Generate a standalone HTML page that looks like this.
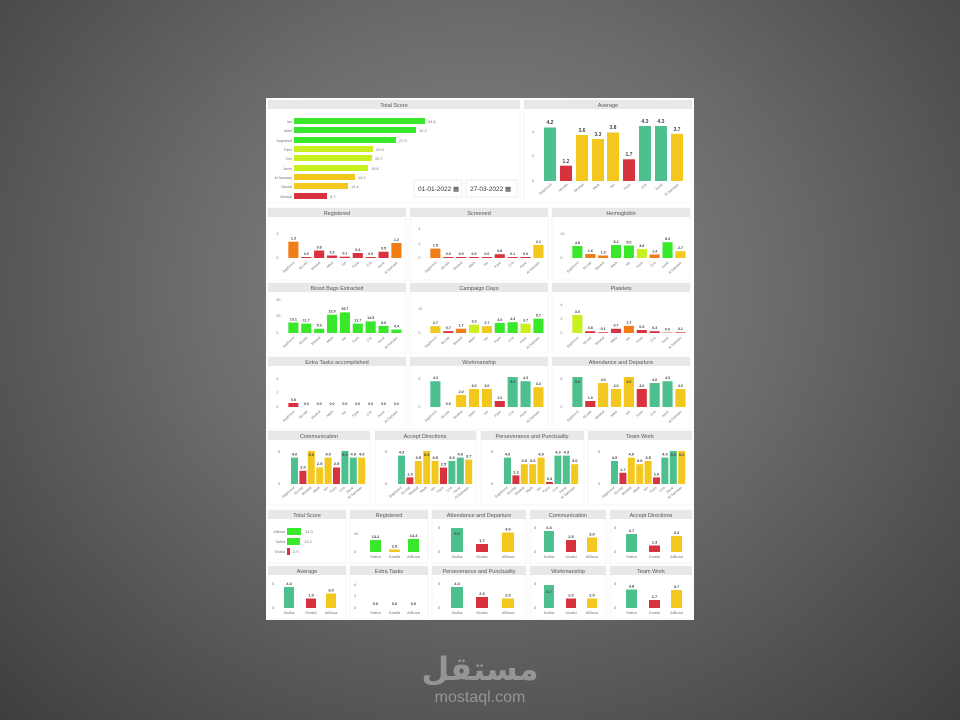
<!DOCTYPE html>
<html><head><meta charset="utf-8"><style>
html,body{margin:0;padding:0;width:960px;height:720px;overflow:hidden;background:radial-gradient(ellipse at 50% 40%,#8c8c8c 0%,#6a6a6a 45%,#3e3e3e 100%);font-family:"Liberation Sans",sans-serif}
svg{position:absolute;left:0;top:0}
.t{font-size:5.5px;fill:#555;text-anchor:middle}
.v{font-size:4px;fill:#444;font-weight:bold;text-anchor:middle}
.a{font-size:4px;fill:#777}
.n{font-size:3.6px;fill:#777;text-anchor:end}
.G{fill:#4ec08f}.R{fill:#d9323f}.Y{fill:#f2c81e}.O{fill:#f07d16}.B{fill:#39e82a}.L{fill:#c8ef1e}
</style></head><body>
<svg width="960" height="720" viewBox="0 0 960 720">
<defs>
<g id="names"><text class="n" transform="translate(28,55) rotate(-40)">Saghreed</text><text class="n" transform="translate(42,55) rotate(-40)">Nicolai</text><text class="n" transform="translate(56,55) rotate(-40)">Meshal</text><text class="n" transform="translate(70,55) rotate(-40)">Mark</text><text class="n" transform="translate(84,55) rotate(-40)">Ian</text><text class="n" transform="translate(98,55) rotate(-40)">Faris</text><text class="n" transform="translate(112,55) rotate(-40)">Cris</text><text class="n" transform="translate(126,55) rotate(-40)">Asrar</text><text class="n" transform="translate(140,55) rotate(-40)">Al Samaan</text></g>
<g id="names5"><text class="n" transform="translate(27,57) rotate(-40)">Saghreed</text><text class="n" transform="translate(35.4,57) rotate(-40)">Nicolai</text><text class="n" transform="translate(43.8,57) rotate(-40)">Meshal</text><text class="n" transform="translate(52.2,57) rotate(-40)">Mark</text><text class="n" transform="translate(60.6,57) rotate(-40)">Ian</text><text class="n" transform="translate(69,57) rotate(-40)">Faris</text><text class="n" transform="translate(77.4,57) rotate(-40)">Cris</text><text class="n" transform="translate(85.8,57) rotate(-40)">Asrar</text><text class="n" transform="translate(94.2,57) rotate(-40)">Al Samaan</text></g>
</defs>
<rect x="266" y="98" width="428" height="522" fill="#fff"/>

<!-- Total Score -->
<rect x="268" y="100" width="252" height="103" fill="#fff" stroke="#eee" stroke-width=".5"/>
<rect x="268" y="100" width="252" height="9" fill="#e8e8e8"/><text class="t" x="394" y="107">Total Score</text>
<g class="n" style="text-anchor:end">
<text x="292" y="123">Ian</text><text x="292" y="132">Mark</text><text x="292" y="142">Saghreed</text><text x="292" y="151">Faris</text><text x="292" y="160">Cris</text><text x="292" y="170">Asrar</text><text x="292" y="179">Al Samaan</text><text x="292" y="188">Nicolai</text><text x="292" y="198">Meshal</text></g>
<rect class="B" x="294" y="118" width="131" height="6"/><rect class="B" x="294" y="127" width="122" height="6"/><rect class="B" x="294" y="137" width="102" height="6"/><rect class="L" x="294" y="146" width="79" height="6"/><rect class="L" x="294" y="155" width="78" height="6"/><rect class="L" x="294" y="165" width="74" height="6"/><rect class="Y" x="294" y="174" width="61" height="6"/><rect class="Y" x="294" y="183" width="54" height="6"/><rect class="R" x="294" y="193" width="33" height="6"/>
<g class="a"><text x="428" y="123">34.6</text><text x="419" y="132">32.2</text><text x="399" y="142">27.0</text><text x="376" y="151">20.9</text><text x="375" y="160">20.7</text><text x="371" y="170">19.6</text><text x="358" y="179">16.2</text><text x="351" y="188">14.4</text><text x="330" y="198">8.7</text></g>
<rect x="414" y="180" width="48" height="17" fill="#fff" stroke="#ddd" stroke-width=".5"/><rect x="466" y="180" width="51" height="17" fill="#fff" stroke="#ddd" stroke-width=".5"/>
<text x="418" y="191" font-size="6.5" fill="#333">01-01-2022 ▦</text><text x="470" y="191" font-size="6.5" fill="#333">27-03-2022 ▦</text>

<!-- Average -->
<rect x="524" y="100" width="168" height="103" fill="#fff" stroke="#eee" stroke-width=".5"/>
<rect x="524" y="100" width="168" height="9" fill="#e8e8e8"/><text class="t" x="608" y="107">Average</text>
<g class="a"><text x="532" y="133">4</text><text x="532" y="157">2</text><text x="532" y="182">0</text></g>
<rect class="G" x="544" y="127.5" width="12" height="53.5"/><rect class="R" x="560" y="165.7" width="12" height="15.3"/><rect class="Y" x="576" y="135" width="12" height="46"/><rect class="Y" x="592" y="139" width="12" height="42"/><rect class="Y" x="607" y="132.5" width="12" height="48.5"/><rect class="R" x="623" y="159.3" width="12" height="21.7"/><rect class="G" x="639" y="126" width="12" height="55"/><rect class="G" x="655" y="126" width="12" height="55"/><rect class="Y" x="671" y="133.8" width="12" height="47.2"/>
<g class="v" style="font-size:5px"><text x="550" y="124">4.2</text><text x="566" y="163">1.2</text><text x="582" y="132">3.6</text><text x="598" y="136">3.3</text><text x="613" y="129">3.8</text><text x="629" y="156">1.7</text><text x="645" y="123">4.3</text><text x="661" y="123">4.3</text><text x="677" y="131">3.7</text></g>
<g class="n"><text transform="translate(552,185) rotate(-40)">Saghreed</text><text transform="translate(568,185) rotate(-40)">Nicolai</text><text transform="translate(584,185) rotate(-40)">Meshal</text><text transform="translate(600,185) rotate(-40)">Mark</text><text transform="translate(615,185) rotate(-40)">Ian</text><text transform="translate(631,185) rotate(-40)">Faris</text><text transform="translate(647,185) rotate(-40)">Cris</text><text transform="translate(663,185) rotate(-40)">Asrar</text><text transform="translate(679,185) rotate(-40)">Al Samaan</text></g>

<!-- Row 2 -->
<svg x="268" y="208" width="138" height="72" overflow="visible"><rect width="138" height="72" fill="#fff" stroke="#eee" stroke-width=".5"/><rect width="138" height="9" fill="#e8e8e8"/><text class="t" x="69" y="7">Registered</text>
<g transform="translate(1,0) scale(.92,1)">
<text class="a" x="8" y="27">2</text><text class="a" x="8" y="51">0</text>
<rect class="O" x="21" y="33.7" width="11" height="16.3"/><rect class="R" x="35" y="49" width="11" height="1"/><rect class="R" x="49" y="42.5" width="11" height="7.5"/><rect class="R" x="63" y="47.5" width="11" height="2.5"/><rect class="R" x="77" y="48.7" width="11" height="1.3"/><rect class="R" x="91" y="45" width="11" height="5"/><rect class="R" x="105" y="49" width="11" height="1"/><rect class="R" x="119" y="43.7" width="11" height="6.3"/><rect class="O" x="133" y="35" width="11" height="15"/>
<g class="v"><text x="26.5" y="31.5">1.3</text><text x="40.5" y="47">0.0</text><text x="54.5" y="40.5">0.6</text><text x="68.5" y="45.5">0.2</text><text x="82.5" y="46.5">0.1</text><text x="96.5" y="43">0.4</text><text x="110.5" y="47">0.0</text><text x="124.5" y="41.5">0.5</text><text x="138.5" y="33">1.2</text></g><use href="#names"/></g></svg>

<svg x="410" y="208" width="138" height="72" overflow="visible"><rect width="138" height="72" fill="#fff" stroke="#eee" stroke-width=".5"/><rect width="138" height="9" fill="#e8e8e8"/><text class="t" x="69" y="7">Screened</text>
<g transform="translate(1,0) scale(.92,1)">
<text class="a" x="8" y="22">4</text><text class="a" x="8" y="37">2</text><text class="a" x="8" y="51">0</text>
<rect class="O" x="21" y="40.6" width="11" height="9.4"/><rect class="R" x="35" y="49" width="11" height="1"/><rect class="R" x="49" y="49" width="11" height="1"/><rect class="R" x="63" y="49" width="11" height="1"/><rect class="R" x="77" y="49" width="11" height="1"/><rect class="R" x="91" y="46.2" width="11" height="3.8"/><rect class="R" x="105" y="49" width="11" height="1"/><rect class="R" x="119" y="49" width="11" height="1"/><rect class="Y" x="133" y="36.9" width="11" height="13.1"/>
<g class="v"><text x="26.5" y="38.5">1.5</text><text x="40.5" y="47">0.0</text><text x="54.5" y="47">0.0</text><text x="68.5" y="47">0.0</text><text x="82.5" y="47">0.0</text><text x="96.5" y="44">0.6</text><text x="110.5" y="47">0.1</text><text x="124.5" y="47">0.0</text><text x="138.5" y="35">2.1</text></g><use href="#names"/></g></svg>

<svg x="552" y="208" width="138" height="72" overflow="visible"><rect width="138" height="72" fill="#fff" stroke="#eee" stroke-width=".5"/><rect width="138" height="9" fill="#e8e8e8"/><text class="t" x="69" y="7">Hemoglobin</text>
<g transform="translate(1,0) scale(.92,1)">
<text class="a" x="8" y="27">10</text><text class="a" x="8" y="51">0</text>
<rect class="B" x="21" y="38" width="11" height="12"/><rect class="O" x="35" y="46" width="11" height="4"/><rect class="O" x="49" y="47.5" width="11" height="2.5"/><rect class="B" x="63" y="37" width="11" height="13"/><rect class="B" x="77" y="37.5" width="11" height="12.5"/><rect class="L" x="91" y="41" width="11" height="9"/><rect class="O" x="105" y="46.5" width="11" height="3.5"/><rect class="B" x="119" y="34.2" width="11" height="15.8"/><rect class="Y" x="133" y="43.2" width="11" height="6.8"/>
<g class="v"><text x="26.5" y="36">4.8</text><text x="40.5" y="44">1.6</text><text x="54.5" y="45.5">1.0</text><text x="68.5" y="35">5.2</text><text x="82.5" y="35.5">5.0</text><text x="96.5" y="39">3.6</text><text x="110.5" y="44.5">1.4</text><text x="124.5" y="32">6.3</text><text x="138.5" y="41">2.7</text></g><use href="#names"/></g></svg>

<!-- Row 3 -->
<svg x="268" y="283" width="138" height="70" overflow="visible"><rect width="138" height="70" fill="#fff" stroke="#eee" stroke-width=".5"/><rect width="138" height="9" fill="#e8e8e8"/><text class="t" x="69" y="7">Blood Bags Extracted</text>
<g transform="translate(1,0) scale(.92,1)">
<text class="a" x="8" y="18">40</text><text class="a" x="8" y="34">20</text><text class="a" x="8" y="51">0</text>
<rect class="B" x="21" y="39.5" width="11" height="10.5"/><rect class="B" x="35" y="40.6" width="11" height="9.4"/><rect class="B" x="49" y="45.8" width="11" height="4.2"/><rect class="B" x="63" y="31.7" width="11" height="18.3"/><rect class="B" x="77" y="29.4" width="11" height="20.6"/><rect class="B" x="91" y="40.6" width="11" height="9.4"/><rect class="B" x="105" y="38.4" width="11" height="11.6"/><rect class="B" x="119" y="42.9" width="11" height="7.1"/><rect class="B" x="133" y="46.5" width="11" height="3.5"/>
<g class="v"><text x="26.5" y="37.5">13.1</text><text x="40.5" y="38.5">11.7</text><text x="54.5" y="43.5">5.3</text><text x="68.5" y="29.5">22.9</text><text x="82.5" y="27">25.7</text><text x="96.5" y="38.5">11.7</text><text x="110.5" y="36">14.5</text><text x="124.5" y="41">8.9</text><text x="138.5" y="44.5">4.4</text></g><use href="#names"/></g></svg>

<svg x="410" y="283" width="138" height="70" overflow="visible"><rect width="138" height="70" fill="#fff" stroke="#eee" stroke-width=".5"/><rect width="138" height="9" fill="#e8e8e8"/><text class="t" x="69" y="7">Campaign Days</text>
<g transform="translate(1,0) scale(.92,1)">
<text class="a" x="8" y="27">10</text><text class="a" x="8" y="51">0</text>
<rect class="Y" x="21" y="43.2" width="11" height="6.8"/><rect class="R" x="35" y="48.2" width="11" height="1.8"/><rect class="O" x="49" y="45.7" width="11" height="4.3"/><rect class="L" x="63" y="41.7" width="11" height="8.3"/><rect class="Y" x="77" y="43.2" width="11" height="6.8"/><rect class="B" x="91" y="40" width="11" height="10"/><rect class="B" x="105" y="39.2" width="11" height="10.8"/><rect class="L" x="119" y="40.7" width="11" height="9.3"/><rect class="B" x="133" y="35.7" width="11" height="14.3"/>
<g class="v"><text x="26.5" y="41">2.7</text><text x="40.5" y="46">0.7</text><text x="54.5" y="43.5">1.7</text><text x="68.5" y="39.5">3.3</text><text x="82.5" y="41">2.7</text><text x="96.5" y="38">4.0</text><text x="110.5" y="37">4.3</text><text x="124.5" y="38.5">3.7</text><text x="138.5" y="33.5">5.7</text></g><use href="#names"/></g></svg>

<svg x="552" y="283" width="138" height="70" overflow="visible"><rect width="138" height="70" fill="#fff" stroke="#eee" stroke-width=".5"/><rect width="138" height="9" fill="#e8e8e8"/><text class="t" x="69" y="7">Platelets</text>
<g transform="translate(1,0) scale(.92,1)">
<text class="a" x="8" y="23">4</text><text class="a" x="8" y="37">2</text><text class="a" x="8" y="51">0</text>
<rect class="L" x="21" y="32" width="11" height="18"/><rect class="R" x="35" y="48.2" width="11" height="1.8"/><rect class="R" x="49" y="49.3" width="11" height=".7"/><rect class="R" x="63" y="45.8" width="11" height="4.2"/><rect class="O" x="77" y="42.8" width="11" height="7.2"/><rect class="R" x="91" y="47" width="11" height="3"/><rect class="R" x="105" y="48.2" width="11" height="1.8"/><rect class="R" x="119" y="49.6" width="11" height=".4"/><rect class="R" x="133" y="49.3" width="11" height=".7"/>
<g class="v"><text x="26.5" y="30">3.0</text><text x="40.5" y="46">0.5</text><text x="54.5" y="47">0.1</text><text x="68.5" y="43.5">0.7</text><text x="82.5" y="40.5">1.2</text><text x="96.5" y="45">0.5</text><text x="110.5" y="46">0.3</text><text x="124.5" y="47.5">0.0</text><text x="138.5" y="47">0.1</text></g><use href="#names"/></g></svg>

<!-- Row 4 -->
<svg x="268" y="357" width="138" height="72" overflow="visible"><rect width="138" height="72" fill="#fff" stroke="#eee" stroke-width=".5"/><rect width="138" height="9" fill="#e8e8e8"/><text class="t" x="69" y="7">Extra Tasks accomplished</text>
<g transform="translate(1,0) scale(.92,1)">
<text class="a" x="8" y="23">4</text><text class="a" x="8" y="37">2</text><text class="a" x="8" y="51">0</text>
<rect class="R" x="21" y="46" width="11" height="4"/>
<g class="v"><text x="26.5" y="44">0.6</text><text x="40.5" y="48">0.0</text><text x="54.5" y="48">0.0</text><text x="68.5" y="48">0.0</text><text x="82.5" y="48">0.0</text><text x="96.5" y="48">0.0</text><text x="110.5" y="48">0.0</text><text x="124.5" y="48">0.0</text><text x="138.5" y="48">0.0</text></g><use href="#names"/></g></svg>

<svg x="410" y="357" width="138" height="72" overflow="visible"><rect width="138" height="72" fill="#fff" stroke="#eee" stroke-width=".5"/><rect width="138" height="9" fill="#e8e8e8"/><text class="t" x="69" y="7">Workmanship</text>
<g transform="translate(1,0) scale(.92,1)">
<text class="a" x="8" y="23">5</text><text class="a" x="8" y="51">0</text>
<rect class="G" x="21" y="24.2" width="11" height="25.8"/><rect class="Y" x="49" y="38" width="11" height="12"/><rect class="Y" x="63" y="32" width="11" height="18"/><rect class="Y" x="77" y="32" width="11" height="18"/><rect class="R" x="91" y="44" width="11" height="6"/><rect class="G" x="105" y="20" width="11" height="30"/><rect class="G" x="119" y="24.2" width="11" height="25.8"/><rect class="Y" x="133" y="30.2" width="11" height="19.8"/>
<g class="v"><text x="26.5" y="22">4.3</text><text x="40.5" y="48">0.0</text><text x="54.5" y="36">2.0</text><text x="68.5" y="30">3.0</text><text x="82.5" y="30">3.0</text><text x="96.5" y="42">1.0</text><text x="110.5" y="26">5.0</text><text x="124.5" y="22">4.3</text><text x="138.5" y="28">3.3</text></g><use href="#names"/></g></svg>

<svg x="552" y="357" width="138" height="72" overflow="visible"><rect width="138" height="72" fill="#fff" stroke="#eee" stroke-width=".5"/><rect width="138" height="9" fill="#e8e8e8"/><text class="t" x="69" y="7">Attendance and Departure</text>
<g transform="translate(1,0) scale(.92,1)">
<text class="a" x="8" y="23">5</text><text class="a" x="8" y="51">0</text>
<rect class="G" x="21" y="20" width="11" height="30"/><rect class="R" x="35" y="44" width="11" height="6"/><rect class="Y" x="49" y="26" width="11" height="24"/><rect class="Y" x="63" y="32" width="11" height="18"/><rect class="Y" x="77" y="20" width="11" height="30"/><rect class="R" x="91" y="32" width="11" height="18"/><rect class="G" x="105" y="26" width="11" height="24"/><rect class="G" x="119" y="24.2" width="11" height="25.8"/><rect class="Y" x="133" y="32" width="11" height="18"/>
<g class="v"><text x="26.5" y="26">5.0</text><text x="40.5" y="42">1.0</text><text x="54.5" y="24">4.0</text><text x="68.5" y="30">3.0</text><text x="82.5" y="26">3.0</text><text x="96.5" y="30">3.0</text><text x="110.5" y="24">4.0</text><text x="124.5" y="22">4.3</text><text x="138.5" y="30">3.0</text></g><use href="#names"/></g></svg>

<!-- Row 5 -->
<svg x="268" y="431" width="102" height="74" overflow="visible"><rect width="102" height="74" fill="#fff" stroke="#eee" stroke-width=".5"/><rect width="102" height="9" fill="#e8e8e8"/><text class="t" x="51" y="7">Communication</text>
<text class="a" x="10" y="22">5</text><text class="a" x="10" y="54">0</text>
<rect class="G" x="23" y="26.6" width="7" height="26.4"/><rect class="R" x="31.4" y="39.8" width="7" height="13.2"/><rect class="Y" x="39.8" y="20" width="7" height="33"/><rect class="Y" x="48.2" y="36.5" width="7" height="16.5"/><rect class="Y" x="56.6" y="26.6" width="7" height="26.4"/><rect class="R" x="65" y="36.5" width="7" height="16.5"/><rect class="G" x="73.4" y="20" width="7" height="33"/><rect class="G" x="81.8" y="26.6" width="7" height="26.4"/><rect class="Y" x="90.2" y="26.6" width="7" height="26.4"/>
<g class="v"><text x="26.5" y="24.5">4.0</text><text x="34.9" y="37.5">2.0</text><text x="43.3" y="25">5.0</text><text x="51.7" y="34">2.5</text><text x="60.1" y="24.5">4.0</text><text x="68.5" y="34">2.5</text><text x="76.9" y="25">5.0</text><text x="85.3" y="24.5">4.0</text><text x="93.7" y="24.5">4.0</text></g><use href="#names5"/></svg>

<svg x="375" y="431" width="101" height="74" overflow="visible"><rect width="101" height="74" fill="#fff" stroke="#eee" stroke-width=".5"/><rect width="101" height="9" fill="#e8e8e8"/><text class="t" x="50" y="7">Accept Directions</text>
<text class="a" x="10" y="22">5</text><text class="a" x="10" y="54">0</text>
<rect class="G" x="23" y="24.6" width="7" height="28.4"/><rect class="R" x="31.4" y="46.4" width="7" height="6.6"/><rect class="Y" x="39.8" y="29.9" width="7" height="23.1"/><rect class="Y" x="48.2" y="20" width="7" height="33"/><rect class="Y" x="56.6" y="29.9" width="7" height="23.1"/><rect class="R" x="65" y="36.5" width="7" height="16.5"/><rect class="G" x="73.4" y="29.9" width="7" height="23.1"/><rect class="G" x="81.8" y="26.6" width="7" height="26.4"/><rect class="Y" x="90.2" y="28.6" width="7" height="24.4"/>
<g class="v"><text x="26.5" y="22.5">4.3</text><text x="34.9" y="44.5">1.0</text><text x="43.3" y="28">3.5</text><text x="51.7" y="25">5.0</text><text x="60.1" y="28">3.5</text><text x="68.5" y="34.5">2.5</text><text x="76.9" y="28">3.5</text><text x="85.3" y="24.5">4.0</text><text x="93.7" y="26.5">3.7</text></g><use href="#names5"/></svg>

<svg x="481" y="431" width="103" height="74" overflow="visible"><rect width="103" height="74" fill="#fff" stroke="#eee" stroke-width=".5"/><rect width="103" height="9" fill="#e8e8e8"/><text class="t" x="51" y="7">Perseverance and Punctuality</text>
<text class="a" x="10" y="22">5</text><text class="a" x="10" y="54">0</text>
<rect class="G" x="23" y="26.6" width="7" height="26.4"/><rect class="R" x="31.4" y="44.4" width="7" height="8.6"/><rect class="Y" x="39.8" y="33.2" width="7" height="19.8"/><rect class="Y" x="48.2" y="33.2" width="7" height="19.8"/><rect class="Y" x="56.6" y="26.6" width="7" height="26.4"/><rect class="R" x="65" y="51" width="7" height="2"/><rect class="G" x="73.4" y="24.6" width="7" height="28.4"/><rect class="G" x="81.8" y="24.6" width="7" height="28.4"/><rect class="Y" x="90.2" y="33.2" width="7" height="19.8"/>
<g class="v"><text x="26.5" y="24.5">4.0</text><text x="34.9" y="42.5">1.3</text><text x="43.3" y="31">3.0</text><text x="51.7" y="31">3.0</text><text x="60.1" y="24.5">4.0</text><text x="68.5" y="49">0.3</text><text x="76.9" y="22.5">4.3</text><text x="85.3" y="22.5">4.3</text><text x="93.7" y="31">3.0</text></g><use href="#names5"/></svg>

<svg x="588" y="431" width="104" height="74" overflow="visible"><rect width="104" height="74" fill="#fff" stroke="#eee" stroke-width=".5"/><rect width="104" height="9" fill="#e8e8e8"/><text class="t" x="52" y="7">Team Work</text>
<text class="a" x="10" y="22">5</text><text class="a" x="10" y="54">0</text>
<rect class="G" x="23" y="29.9" width="7" height="23.1"/><rect class="R" x="31.4" y="41.8" width="7" height="11.2"/><rect class="Y" x="39.8" y="26.6" width="7" height="26.4"/><rect class="Y" x="48.2" y="33.2" width="7" height="19.8"/><rect class="Y" x="56.6" y="29.9" width="7" height="23.1"/><rect class="R" x="65" y="46.4" width="7" height="6.6"/><rect class="G" x="73.4" y="26.6" width="7" height="26.4"/><rect class="G" x="81.8" y="20" width="7" height="33"/><rect class="Y" x="90.2" y="20" width="7" height="33"/>
<g class="v"><text x="26.5" y="28">3.5</text><text x="34.9" y="40">1.7</text><text x="43.3" y="24.5">4.0</text><text x="51.7" y="31">3.0</text><text x="60.1" y="28">3.5</text><text x="68.5" y="44.5">1.0</text><text x="76.9" y="24.5">4.0</text><text x="85.3" y="25">5.0</text><text x="93.7" y="25">5.0</text></g><use href="#names5"/></svg>

<!-- Row 6 -->
<svg x="268" y="510" width="78" height="53" overflow="visible"><rect width="78" height="53" fill="#fff" stroke="#eee" stroke-width=".5"/><rect width="78" height="9" fill="#e8e8e8"/><text class="t" x="39" y="7">Total Score</text>
<g class="n"><text x="17" y="23">AlBosa</text><text x="17" y="33">Safha</text><text x="17" y="43">Khalid</text></g>
<rect class="B" x="19" y="18" width="14" height="7"/><rect class="B" x="19" y="28" width="13" height="7"/><rect class="R" x="19" y="38" width="3" height="7"/>
<g class="a"><text x="37" y="23">14.3</text><text x="36" y="33">13.2</text><text x="25" y="43">2.9</text></g></svg>

<svg x="350" y="510" width="78" height="53" overflow="visible"><rect width="78" height="53" fill="#fff" stroke="#eee" stroke-width=".5"/><rect width="78" height="9" fill="#e8e8e8"/><text class="t" x="39" y="7">Registered</text>
<text class="a" x="4" y="25">20</text><text class="a" x="4" y="43">0</text>
<rect class="B" x="20" y="30" width="11" height="12"/><rect class="Y" x="39" y="39.5" width="11" height="2.5"/><rect class="B" x="58" y="29" width="11" height="13"/>
<g class="v"><text x="25.5" y="28">13.2</text><text x="44.5" y="37.5">2.9</text><text x="63.5" y="27">14.3</text></g>
<g class="a" style="text-anchor:middle"><text x="25.5" y="48">Safha</text><text x="44.5" y="48">Khalid</text><text x="63.5" y="48">AlBosa</text></g></svg>

<svg x="432" y="510" width="94" height="53" overflow="visible"><rect width="94" height="53" fill="#fff" stroke="#eee" stroke-width=".5"/><rect width="94" height="9" fill="#e8e8e8"/><text class="t" x="47" y="7">Attendance and Departure</text>
<text class="a" x="6" y="19">5</text><text class="a" x="6" y="43">0</text>
<rect class="G" x="19" y="18" width="12" height="24"/><rect class="R" x="44" y="34" width="12" height="8"/><rect class="Y" x="70" y="22.5" width="12" height="19.5"/>
<g class="v"><text x="25" y="25">5.0</text><text x="50" y="32">1.7</text><text x="76" y="20.5">4.0</text></g>
<g class="a" style="text-anchor:middle"><text x="25" y="48">Safha</text><text x="50" y="48">Khalid</text><text x="76" y="48">AlBosa</text></g></svg>

<svg x="530" y="510" width="76" height="53" overflow="visible"><rect width="76" height="53" fill="#fff" stroke="#eee" stroke-width=".5"/><rect width="76" height="9" fill="#e8e8e8"/><text class="t" x="38" y="7">Communication</text>
<text class="a" x="4" y="19">5</text><text class="a" x="4" y="43">0</text>
<rect class="G" x="14" y="21" width="10" height="21"/><rect class="R" x="36" y="30" width="10" height="12"/><rect class="Y" x="57" y="27.5" width="10" height="14.5"/>
<g class="v"><text x="19" y="19">4.3</text><text x="41" y="28">2.5</text><text x="62" y="25.5">3.0</text></g>
<g class="a" style="text-anchor:middle"><text x="19" y="48">Safha</text><text x="41" y="48">Khalid</text><text x="62" y="48">AlBosa</text></g></svg>

<svg x="610" y="510" width="82" height="53" overflow="visible"><rect width="82" height="53" fill="#fff" stroke="#eee" stroke-width=".5"/><rect width="82" height="9" fill="#e8e8e8"/><text class="t" x="41" y="7">Accept Directions</text>
<text class="a" x="4" y="19">5</text><text class="a" x="4" y="43">0</text>
<rect class="G" x="16" y="24" width="11" height="18"/><rect class="R" x="39" y="35.5" width="11" height="6.5"/><rect class="Y" x="61" y="26" width="11" height="16"/>
<g class="v"><text x="21.5" y="22">3.7</text><text x="44.5" y="33.5">1.3</text><text x="66.5" y="24">3.3</text></g>
<g class="a" style="text-anchor:middle"><text x="21.5" y="48">Safha</text><text x="44.5" y="48">Khalid</text><text x="66.5" y="48">AlBosa</text></g></svg>

<!-- Row 7 -->
<svg x="268" y="566" width="78" height="53" overflow="visible"><rect width="78" height="53" fill="#fff" stroke="#eee" stroke-width=".5"/><rect width="78" height="9" fill="#e8e8e8"/><text class="t" x="39" y="7">Average</text>
<text class="a" x="4" y="19">5</text><text class="a" x="4" y="43">0</text>
<rect class="G" x="16" y="21" width="10" height="21"/><rect class="R" x="38" y="32.5" width="10" height="9.5"/><rect class="Y" x="58" y="27.5" width="10" height="14.5"/>
<g class="v"><text x="21" y="19">4.3</text><text x="43" y="30.5">1.9</text><text x="63" y="25.5">3.0</text></g>
<g class="a" style="text-anchor:middle"><text x="21" y="48">Safha</text><text x="43" y="48">Khalid</text><text x="63" y="48">AlBosa</text></g></svg>

<svg x="350" y="566" width="78" height="53" overflow="visible"><rect width="78" height="53" fill="#fff" stroke="#eee" stroke-width=".5"/><rect width="78" height="9" fill="#e8e8e8"/><text class="t" x="39" y="7">Extra Tasks</text>
<text class="a" x="4" y="20">4</text><text class="a" x="4" y="31">2</text><text class="a" x="4" y="43">0</text>
<g class="v"><text x="25.5" y="39">0.0</text><text x="44.5" y="39">0.0</text><text x="63.5" y="39">0.0</text></g>
<g class="a" style="text-anchor:middle"><text x="25.5" y="48">Safha</text><text x="44.5" y="48">Khalid</text><text x="63.5" y="48">AlBosa</text></g></svg>

<svg x="432" y="566" width="94" height="53" overflow="visible"><rect width="94" height="53" fill="#fff" stroke="#eee" stroke-width=".5"/><rect width="94" height="9" fill="#e8e8e8"/><text class="t" x="47" y="7">Perseverance and Punctuality</text>
<text class="a" x="6" y="19">5</text><text class="a" x="6" y="43">0</text>
<rect class="G" x="19" y="21" width="12" height="21"/><rect class="R" x="44" y="31" width="12" height="11"/><rect class="Y" x="70" y="32.5" width="12" height="9.5"/>
<g class="v"><text x="25" y="19">4.3</text><text x="50" y="29">2.3</text><text x="76" y="30.5">2.0</text></g>
<g class="a" style="text-anchor:middle"><text x="25" y="48">Safha</text><text x="50" y="48">Khalid</text><text x="76" y="48">AlBosa</text></g></svg>

<svg x="530" y="566" width="76" height="53" overflow="visible"><rect width="76" height="53" fill="#fff" stroke="#eee" stroke-width=".5"/><rect width="76" height="9" fill="#e8e8e8"/><text class="t" x="38" y="7">Workmanship</text>
<text class="a" x="4" y="19">5</text><text class="a" x="4" y="43">0</text>
<rect class="G" x="14" y="19" width="10" height="23"/><rect class="R" x="36" y="32.5" width="10" height="9.5"/><rect class="Y" x="57" y="32.5" width="10" height="9.5"/>
<g class="v"><text x="19" y="27">4.7</text><text x="41" y="30.5">2.0</text><text x="62" y="30.5">2.0</text></g>
<g class="a" style="text-anchor:middle"><text x="19" y="48">Safha</text><text x="41" y="48">Khalid</text><text x="62" y="48">AlBosa</text></g></svg>

<svg x="610" y="566" width="82" height="53" overflow="visible"><rect width="82" height="53" fill="#fff" stroke="#eee" stroke-width=".5"/><rect width="82" height="9" fill="#e8e8e8"/><text class="t" x="41" y="7">Team Work</text>
<text class="a" x="4" y="19">5</text><text class="a" x="4" y="43">0</text>
<rect class="G" x="16" y="23.5" width="11" height="18.5"/><rect class="R" x="39" y="34" width="11" height="8"/><rect class="Y" x="61" y="24" width="11" height="18"/>
<g class="v"><text x="21.5" y="21.5">3.8</text><text x="44.5" y="32">1.7</text><text x="66.5" y="22">3.7</text></g>
<g class="a" style="text-anchor:middle"><text x="21.5" y="48">Safha</text><text x="44.5" y="48">Khalid</text><text x="66.5" y="48">AlBosa</text></g></svg>

<!-- logo -->
<text x="480" y="680" text-anchor="middle" font-size="32" font-weight="bold" fill="#959595" font-family="'DejaVu Sans','Noto Sans CJK SC',sans-serif">مستقل</text>
<text x="480" y="702" text-anchor="middle" font-size="16" fill="#959595" font-family="'Liberation Sans',sans-serif">mostaql.com</text>
</svg>
</body></html>
